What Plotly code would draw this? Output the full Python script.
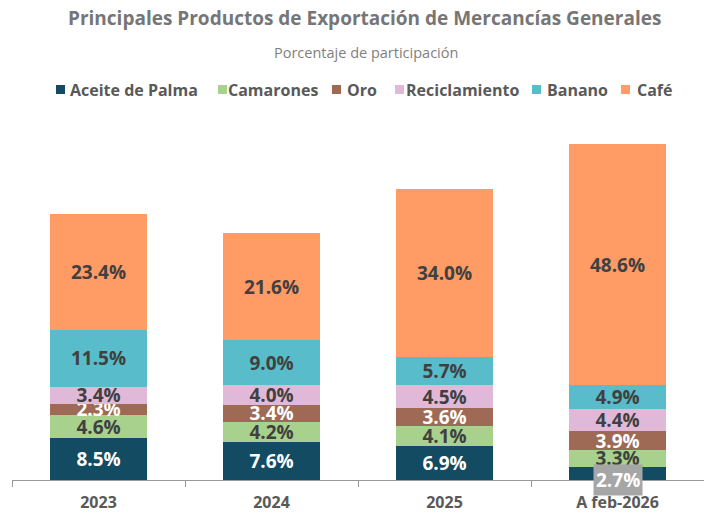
import plotly.graph_objects as go

categories = ["2023", "2024", "2025", "A feb-2026"]
aceite = [8.5, 7.6, 6.9, 2.7]
camarones = [4.6, 4.2, 4.1, 3.3]
oro = [2.3, 3.4, 3.6, 3.9]
reciclamiento = [3.4, 4.0, 4.5, 4.4]
banano = [11.5, 9.0, 5.7, 4.9]
cafe = [23.4, 21.6, 34.0, 48.6]

series_names = ["Aceite de Palma", "Camarones", "Oro", "Reciclamiento", "Banano", "Café"]
series_values = [aceite, camarones, oro, reciclamiento, banano, cafe]
series_colors = ["#134B63", "#A9D18E", "#9E6A55", "#E1B9D8", "#58BCCA", "#FF9B65"]
label_colors = ["white", "#404040", "white", "#404040", "#404040", "#404040"]

FONT = "Open Sans"
W, H = 704, 514
ml, mr, mt, mb = 12, 0, 110, 34
pw = W - ml - mr


def px_x(x):
    return (x - ml) / pw


def px_y(y):
    return (H - mb - y) / (H - mt - mb)


fig = go.Figure()
for i, (name, vals, color, tcolor) in enumerate(zip(series_names, series_values, series_colors, label_colors)):
    texts = [f"{v:.1f}%" for v in vals]
    if i == 0:
        texts[-1] = ""
    fig.add_trace(go.Bar(
        name=name, x=categories, y=vals, marker_color=color,
        marker_line_width=0,
        text=texts, textposition="inside", insidetextanchor="middle",
        constraintext="none", cliponaxis=False,
        textfont=dict(family=FONT, size=19, color=tcolor, weight="bold"),
        hoverinfo="skip", showlegend=False,
    ))

# small last-bar label shown with grey background
fig.add_annotation(
    x=categories[-1], y=0, xref="x", yref="y",
    text=f"<b>{aceite[-1]:.1f}%</b>", showarrow=False,
    yanchor="middle", bgcolor="#A6A6A6", borderpad=2,
    font=dict(family=FONT, size=19, color="white"),
)

# title / subtitle
fig.add_annotation(
    x=px_x(364), y=px_y(18), xref="paper", yref="paper",
    text="<b>Principales Productos de Exportación de Mercancías Generales</b>",
    showarrow=False, xanchor="center", yanchor="middle",
    font=dict(family=FONT, size=19, color="#767676"),
)
fig.add_annotation(
    x=px_x(366), y=px_y(52), xref="paper", yref="paper",
    text="Porcentaje de participación",
    showarrow=False, xanchor="center", yanchor="middle",
    font=dict(family=FONT, size=14.5, color="#7F7F7F"),
)

# legend drawn manually (swatch + label)
legend_sq_x = [56, 218, 332, 395, 532, 621]
legend_txt_x = [70, 228, 347, 406, 547, 637]
for name, color, sx, tx in zip(series_names, series_colors, legend_sq_x, legend_txt_x):
    fig.add_shape(
        type="rect", xref="paper", yref="paper",
        x0=px_x(sx), x1=px_x(sx + 9), y0=px_y(94), y1=px_y(85),
        fillcolor=color, line_width=0,
    )
    fig.add_annotation(
        x=px_x(tx - 2), y=px_y(90), xref="paper", yref="paper",
        text=f"<b>{name}</b>", showarrow=False, xanchor="left", yanchor="middle",
        font=dict(family=FONT, size=16, color="#595959"),
    )

fig.update_layout(
    width=W, height=H,
    margin=dict(l=ml, r=mr, t=mt, b=mb, autoexpand=False),
    barmode="stack", bargap=0.44,
    plot_bgcolor="white", paper_bgcolor="white",
    showlegend=False,
    xaxis=dict(
        type="category", showline=True, linecolor="#999999", linewidth=1,
        ticks="outside", tickson="boundaries", ticklen=6, tickcolor="#999999",
        tickfont=dict(family=FONT, size=16, color="#595959", weight="bold"),
        ticklabelstandoff=8,
        showgrid=False, fixedrange=True, automargin=False,
    ),
    yaxis=dict(range=[0, 370 / 4.95], visible=False, showgrid=False,
               fixedrange=True, automargin=False),
)

fig.write_html(
    "out.html",
    config={"displayModeBar": False},
    post_script="document.body.style.margin='0';document.body.style.overflow='hidden';",
)
